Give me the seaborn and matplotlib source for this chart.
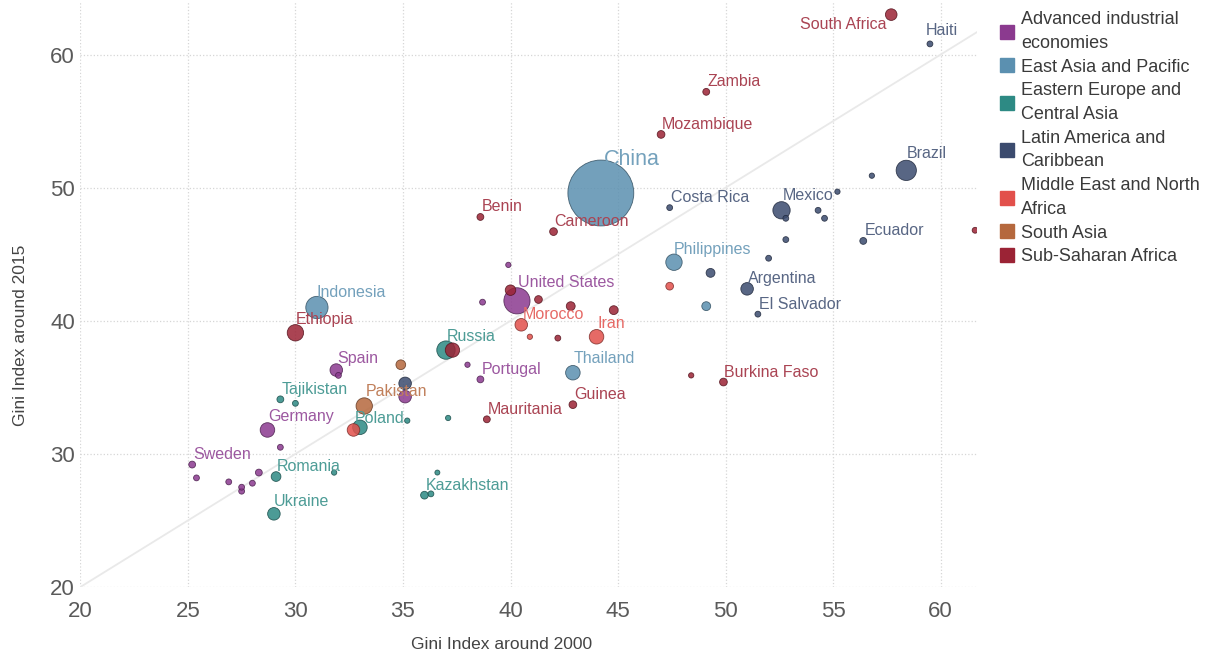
import numpy as np
import pandas as pd
import matplotlib
matplotlib.use("Agg")
import matplotlib.pyplot as plt
from matplotlib.lines import Line2D
import matplotlib.colors as mcolors
import seaborn as sns

# --- data ---
regions = ["Advanced industrial\neconomies", "East Asia and Pacific",
           "Eastern Europe and\nCentral Asia", "Latin America and\nCaribbean",
           "Middle East and North\nAfrica", "South Asia", "Sub-Saharan Africa"]
region_codes = ["ADV", "EAP", "EECA", "LAC", "MENA", "SA", "SSA"]
region_colors = ["#8b3a8f", "#5b90b0", "#2d8a84", "#3b4b6e", "#e2504b", "#b5683d", "#9b2335"]

countries = ["South Africa", "Haiti", "Zambia", "Mozambique", "China", "Costa Rica",
             "Brazil", "Mexico", "Ecuador", "Benin", "Cameroon", "Philippines",
             "Argentina", "El Salvador", "United States", "Morocco", "Iran", "Thailand",
             "Burkina Faso", "Guinea", "Mauritania", "Portugal", "Russia", "Indonesia",
             "Ethiopia", "Spain", "Pakistan", "Poland", "Tajikistan", "Germany",
             "Sweden", "Romania", "Ukraine", "Kazakhstan"] + [""] * 40
region = ["SSA", "LAC", "SSA", "SSA", "EAP", "LAC",
          "LAC", "LAC", "LAC", "SSA", "SSA", "EAP",
          "LAC", "LAC", "ADV", "MENA", "MENA", "EAP",
          "SSA", "SSA", "SSA", "ADV", "EECA", "EAP",
          "SSA", "ADV", "SA", "EECA", "EECA", "ADV",
          "ADV", "EECA", "EECA", "EECA",
          # unlabeled
          "ADV", "ADV", "ADV", "ADV", "ADV", "ADV", "ADV", "EECA", "ADV", "EECA",
          "SA", "LAC", "ADV", "EECA", "EECA", "ADV", "EECA", "EECA", "SSA", "MENA",
          "ADV", "ADV", "SSA", "SSA", "SSA", "SSA", "MENA", "SSA", "MENA", "LAC",
          "EAP", "SSA", "LAC", "LAC", "LAC", "LAC", "LAC", "LAC", "SSA", "LAC"]
gini_2000 = [57.7, 59.5, 49.1, 47.0, 44.2, 47.4,
             58.4, 52.6, 56.4, 38.6, 42.0, 47.6,
             51.0, 51.5, 40.3, 40.5, 44.0, 42.9,
             49.9, 42.9, 38.9, 38.6, 37.0, 31.0,
             30.0, 31.9, 33.2, 33.0, 29.3, 28.7,
             25.2, 29.1, 29.0, 36.0,
             25.4, 26.9, 27.5, 27.5, 28.0, 28.3, 29.3, 30.0, 32.0, 31.8,
             34.9, 35.1, 35.1, 35.2, 37.1, 38.0, 36.6, 36.3, 37.3, 32.7,
             38.7, 39.9, 40.0, 41.3, 42.8, 44.8, 40.9, 42.2, 47.4, 49.3,
             49.1, 48.4, 52.0, 52.8, 54.3, 54.6, 55.2, 56.8, 61.6, 52.8]
gini_2015 = [63.0, 60.8, 57.2, 54.0, 49.6, 48.5,
             51.3, 48.3, 46.0, 47.8, 46.7, 44.4,
             42.4, 40.5, 41.5, 39.7, 38.8, 36.1,
             35.4, 33.7, 32.6, 35.6, 37.8, 41.0,
             39.1, 36.3, 33.6, 32.0, 34.1, 31.8,
             29.2, 28.3, 25.5, 26.9,
             28.2, 27.9, 27.2, 27.5, 27.8, 28.6, 30.5, 33.8, 35.9, 28.6,
             36.7, 35.3, 34.3, 32.5, 32.7, 36.7, 28.6, 27.0, 37.8, 31.8,
             41.4, 44.2, 42.3, 41.6, 41.1, 40.8, 38.8, 38.7, 42.6, 43.6,
             41.1, 35.9, 44.7, 46.1, 48.3, 47.7, 49.7, 50.9, 46.8, 47.7]
# marker size variable (proportional to bubble area)
pop = [38, 6, 10, 14, 1370, 6,
       125, 90, 10, 10, 14, 80,
       45, 6, 212, 45, 62, 62,
       14, 14, 10, 10, 102, 152,
       80, 45, 80, 62, 10, 62,
       10, 25, 45, 14,
       6, 6, 6, 6, 6, 10, 6, 6, 6, 4,
       25, 45, 45, 4, 4, 4, 3, 6, 60, 45,
       6, 4, 30, 14, 20, 20, 4, 6, 14, 20,
       20, 4, 6, 6, 6, 6, 4, 4, 6, 6]

df = pd.DataFrame({"country": countries, "region": region,
                   "g2000": gini_2000, "g2015": gini_2015, "pop": pop})
palette = dict(zip(region_codes, region_colors))

# label offsets in pixels (dx, dy), text left aligned unless noted
offsets = {
    "South Africa": (-5, -10, "right"), "Haiti": (-4, 13, "left"),
    "China": (3, 34, "left"), "Brazil": (0, 17, "left"), "Mexico": (1, 15, "left"),
    "United States": (1, 18, "left"), "Indonesia": (0, 15, "left"),
    "Philippines": (0, 13, "left"), "Russia": (1, 14, "left"),
    "Pakistan": (2, 14, "left"), "Poland": (-5, 9, "left"),
    "Thailand": (1, 14, "left"), "Iran": (1, 13, "left"), "Ethiopia": (0, 13, "left"),
    "Germany": (1, 13, "left"), "Spain": (1, 12, "left"), "Ukraine": (0, 12, "left"),
}


def lighten(c, amt=0.15):
    r, g, b = mcolors.to_rgb(c)
    return (r + (1 - r) * amt, g + (1 - g) * amt, b + (1 - b) * amt)


sns.set_style("white")
plt.rcParams["font.family"] = ["Liberation Sans", "DejaVu Sans"]

fig = plt.figure(figsize=(12.17, 6.53), dpi=100)
ax = fig.add_axes([0.066, 0.101, 0.737, 0.897])

ax.plot([20, 61.7], [20, 61.7], color="#e9e9e9", lw=1.3, zorder=1)

sns.scatterplot(data=df, x="g2000", y="g2015", hue="region", palette=palette,
                size="pop", sizes=(8, 2250), size_norm=(0, 1370),
                alpha=0.85, legend=False, ax=ax, zorder=3)
pts = ax.collections[0]
fc = pts.get_facecolors()
ec = [(r * 0.55, g * 0.55, b * 0.55, 0.9) for r, g, b, a in fc]
pts.set_edgecolors(ec)
pts.set_linewidths(0.6)

for _, row in df[df["country"] != ""].iterrows():
    dx, dy, ha = offsets.get(row["country"], (1, 10, "left"))
    big = row["country"] == "China"
    ax.annotate(row["country"], (row["g2000"], row["g2015"]),
                xytext=(dx * 0.72, dy * 0.72), textcoords="offset points",
                ha=ha, va="center", fontsize=15.5 if big else 11.5,
                color=lighten(palette[row["region"]]), zorder=4)

ax.set_xlim(20, 61.7)
ax.set_ylim(20, 64.0)
ax.set_xticks(range(20, 61, 5))
ax.set_yticks(range(20, 61, 10))
ax.grid(True, linestyle=":", color="#d6d6d6", linewidth=0.9)
ax.set_axisbelow(True)
for s in ax.spines.values():
    s.set_visible(False)
ax.tick_params(length=0, labelsize=16, labelcolor="#5a5a5a")
ax.tick_params(axis="x", pad=10)
ax.tick_params(axis="y", pad=4)
ax.set_xlabel("Gini Index around 2000", fontsize=12.5, color="#444444")
ax.set_ylabel("Gini Index around 2015", fontsize=12.5, color="#444444")
ax.xaxis.set_label_coords(0.47, -0.085)
ax.yaxis.set_label_coords(-0.058, 0.43)

handles = [Line2D([0], [0], marker="s", linestyle="", markersize=10,
                  markerfacecolor=c, markeredgecolor=c) for c in region_colors]
leg = ax.legend(handles, regions, loc="upper left", bbox_to_anchor=(1.012, 1.0),
                frameon=False, fontsize=13, labelcolor="#3a3a3a", handletextpad=0.3,
                handlelength=1.0, labelspacing=0.38, borderaxespad=0.15)
for t in leg.get_texts():
    t.set_linespacing(1.5)

plt.savefig("out.png", dpi=100)
